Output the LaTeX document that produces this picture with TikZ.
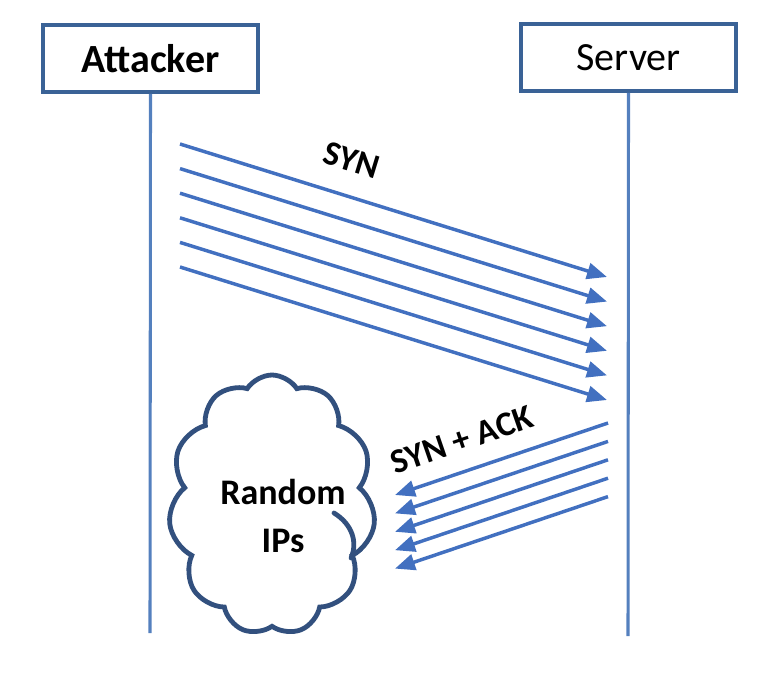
\documentclass[tikz,border=0pt]{standalone}
\usepackage{fontspec}
\setmainfont{Carlito}
\usetikzlibrary{arrows.meta,shapes.symbols}
\definecolor{msgblue}{RGB}{66,112,192}
\definecolor{lineblue}{RGB}{84,128,190}
\definecolor{boxblue}{RGB}{58,98,150}
\definecolor{cloudblue}{RGB}{50,80,126}
\tikzset{
  actor/.style = {draw = boxblue, line width = 3pt, fill = white, minimum width = 161pt, minimum height = 50pt, font = \fontsize{30}{36}\selectfont},
  lifeline/.style = {draw = lineblue, line width = 2.3pt},
  msg/.style = {draw = msgblue, line width = 2.6pt},
  msglabel/.style = {font = \bfseries\fontsize{26}{30}\selectfont},
  puff/.style = {draw = cloudblue, line width = 3.6pt, line cap = round}
}
\begin{document}
\begin{tikzpicture}[x = 0.75pt, y = -0.75pt, >={Triangle[length = 15pt, width = 12pt]}]
\useasboundingbox (0,0) rectangle (773,674);
\node[actor] (attacker) at (150.5,58.5) {\bfseries Attacker};
\node[actor] (server) at (628.5,57.5) {Server};
\coordinate (atkend) at (150,633);
\coordinate (srvend) at (628,636);
\draw[lifeline] (attacker.south) -- (atkend);
\draw[lifeline] (server.south) -- (srvend);
% SYN flood
\foreach \i in {0,...,5} {
  \coordinate (s\i) at (180,144+24.6*\i);
  \coordinate (e\i) at (607,277+24.6*\i);
  \draw[msg, ->] (s\i) -- (e\i);
}
\node[msglabel, rotate = -17] (syn) at (352,160) {SYN};
% SYN + ACK to random hosts
\foreach \i in {0,...,4} {
  \coordinate (b\i) at (608,423+18.4*\i);
  \coordinate (a\i) at (395,495+18.4*\i);
  \draw[msg, ->] (b\i) -- (a\i);
}
\node[msglabel, rotate = 19] (synack) at (462,440) {SYN + ACK};
\node[cloud, puff, cloud puffs = 11, cloud puff arc = 115, cloud ignores aspect, minimum width = 155pt, minimum height = 195pt] (cloud) at (272,505) {};
% inner fold of the cloud
\draw[puff] (334,513) .. controls (352,524) and (358,542) .. (351,558);
\node[align = center, font = \bfseries\fontsize{27}{36}\selectfont] (ips) at (283,516) {Random\\IPs};
\end{tikzpicture}
\end{document}
